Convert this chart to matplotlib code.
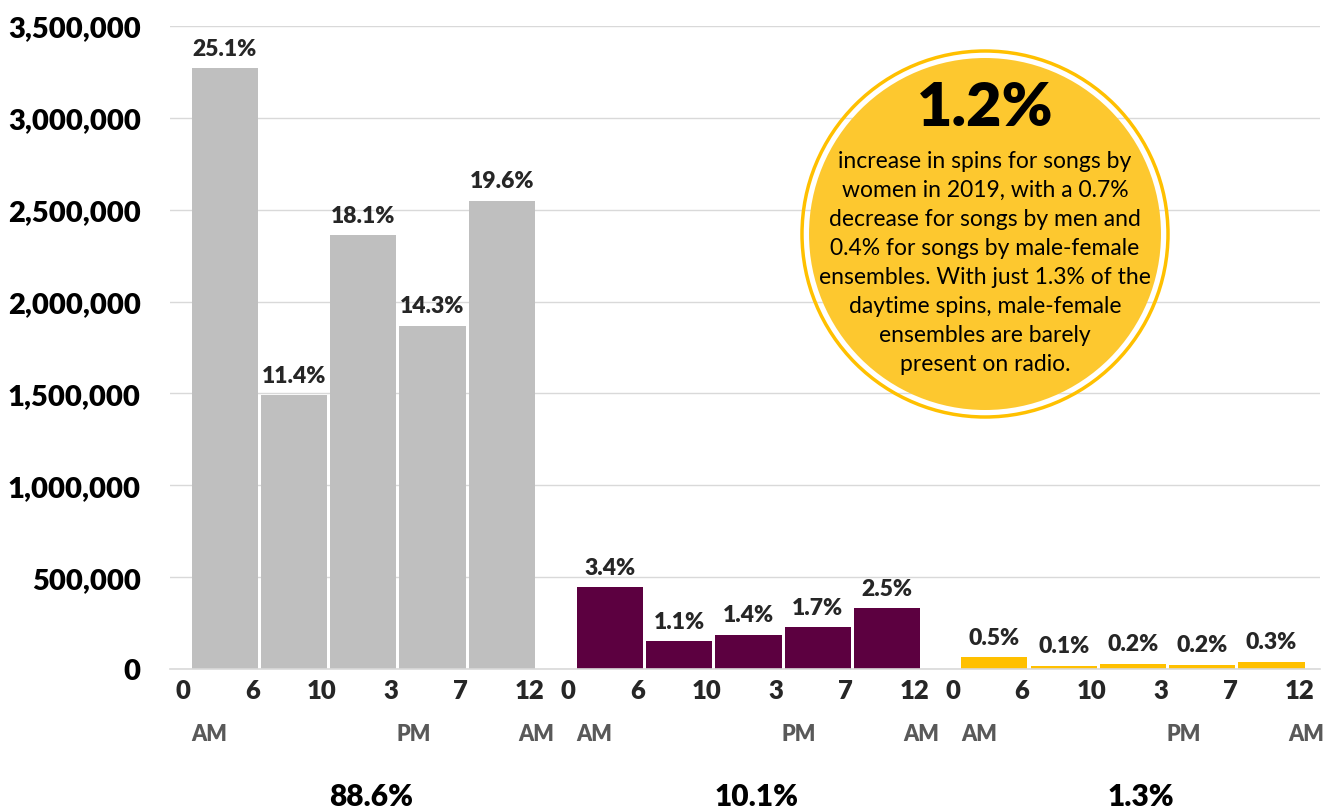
import matplotlib.pyplot as plt
from matplotlib.patches import Circle
from matplotlib.ticker import FuncFormatter

plt.rcParams["font.family"] = ["Lato", "DejaVu Sans"]

# spins per daypart for songs by women, men and male-female ensembles
hours = ["0", "6", "10", "3", "7", "12"]
ampm = ["AM", "PM", "AM"]
group_share = ["88.6%", "10.1%", "1.3%"]
group_colors = ["#BFBFBF", "#5C0040", "#FFC000"]

men_spins = [3270000, 1490000, 2360000, 1868000, 2548000]
women_spins = [445000, 150000, 185000, 226000, 330000]
mixed_spins = [63000, 18000, 29000, 24000, 39000]
men_pct = ["25.1%", "11.4%", "18.1%", "14.3%", "19.6%"]
women_pct = ["3.4%", "1.1%", "1.4%", "1.7%", "2.5%"]
mixed_pct = ["0.5%", "0.1%", "0.2%", "0.2%", "0.3%"]

groups = [(men_spins, men_pct), (women_spins, women_pct), (mixed_spins, mixed_pct)]
starts = [0.0, 5.56, 11.11]

INK = "#262626"
BOLD = "heavy"
W, H = 1323, 812
fig = plt.figure(figsize=(W / 100, H / 100), dpi=100)
ax = fig.add_axes([170 / W, (H - 670) / H, (1320 - 170) / W, (670 - 27) / H])

for (vals, pcts), x0, color in zip(groups, starts, group_colors):
    xs = [x0 + i + 0.5 for i in range(len(vals))]
    bars = ax.bar(xs, vals, width=0.955, color=color, lw=0, zorder=2)
    for b, v, p in zip(bars, vals, pcts):
        ax.annotate(p, (b.get_x() + b.get_width() / 2, v), xytext=(0, 7),
                    textcoords="offset points", ha="center", va="bottom",
                    fontsize=16.5, fontweight=BOLD, color=INK)

ax.set_xlim(-0.29, 16.31)
ax.set_ylim(0, 3500000)
ax.set_yticks(range(0, 3500001, 500000))
ax.yaxis.set_major_formatter(FuncFormatter(lambda v, _: f"{int(v):,}"))
ax.tick_params(axis="y", length=0, pad=21, labelsize=21, labelcolor="black")
for t in ax.get_yticklabels():
    t.set_fontweight(BOLD)
ax.set_xticks([])
ax.grid(axis="y", color="#D9D9D9", lw=1.0, zorder=0)
for side in ("top", "right", "left"):
    ax.spines[side].set_visible(False)
ax.spines["bottom"].set_color("#D9D9D9")
ax.spines["bottom"].set_linewidth(1.2)

# hour labels, AM/PM markers and group shares under each block
tx = ax.get_xaxis_transform()
for x0, share in zip(starts, group_share):
    for i, h in enumerate(hours):
        ax.text(x0 + i - 0.1, -0.033, h, transform=tx, ha="center", va="center",
                fontsize=18.5, fontweight=BOLD, color=INK)
    for dx, lbl in zip([0.28, 3.23, 5.0], ampm):
        ax.text(x0 + dx, -0.101, lbl, transform=tx, ha="center", va="center",
                fontsize=15.5, fontweight=BOLD, color="#595959")
    ax.text(x0 + 2.62, -0.198, share, transform=tx, ha="center", va="center",
            fontsize=21.5, fontweight=BOLD, color="black")

# callout bubble
cx, cy, r = 985, 235, 190
cax = fig.add_axes([(cx - r) / W, (H - cy - r) / H, 2 * r / W, 2 * r / H])
cax.set_xlim(-r, r)
cax.set_ylim(-r, r)
cax.axis("off")
cax.add_patch(Circle((0, 0), 176, fc="#FDC82F", ec="none"))
cax.add_patch(Circle((0, 0), 183, fill=False, ec="#FFC000", lw=2.5))
cax.text(0, 127, "1.2%", ha="center", va="center", fontsize=44,
         fontweight=BOLD, color="black")
cax.text(0, -28,
         "increase in spins for songs by\nwomen in 2019, with a 0.7%\n"
         "decrease for songs by men and\n0.4% for songs by male-female\n"
         "ensembles. With just 1.3% of the\ndaytime spins, male-female\n"
         "ensembles are barely\npresent on radio.",
         ha="center", va="center", fontsize=16.5, linespacing=1.47, color="black")

fig.savefig("out.png", dpi=100)
